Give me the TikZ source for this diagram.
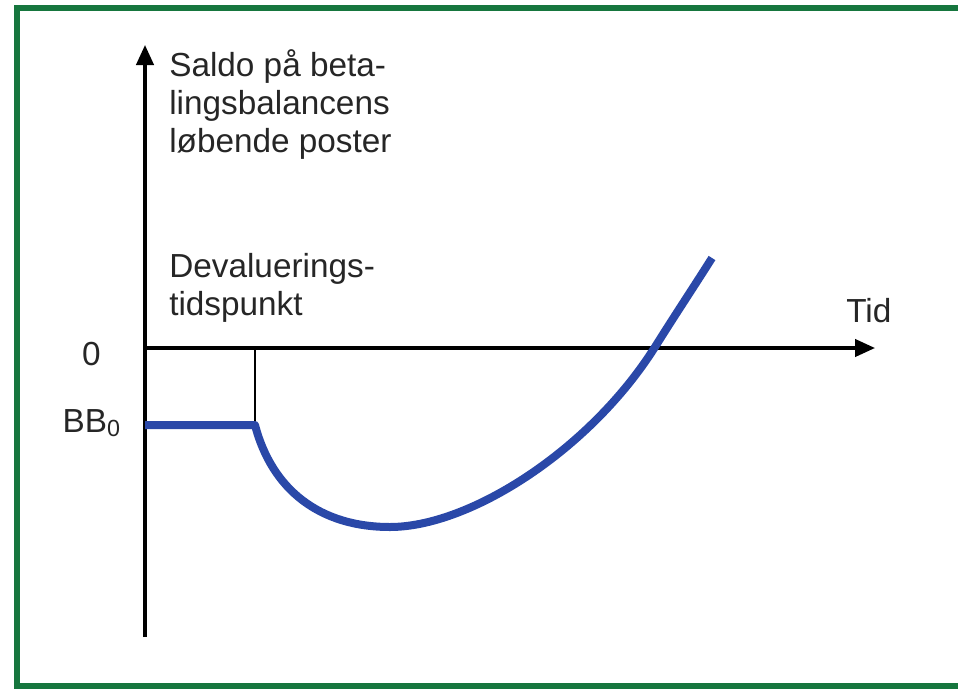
\documentclass[tikz,border=0pt]{standalone}
\usepackage{fontspec}
\setmainfont{Liberation Sans}
\usetikzlibrary{arrows.meta, positioning}
\definecolor{framegreen}{RGB}{22,118,62}
\definecolor{curveblue}{RGB}{42,72,168}
\tikzset{axis/.style = {line width=2.4pt, -{Triangle[length=15pt, width=13pt]}},
  guide/.style = {line width=0.8pt},
  bbcurve/.style = {line width=6pt, curveblue, line join=round},
  lbl/.style = {inner sep=0pt, align=left, text=black!85,
    font=\fontsize{25}{28.2}\selectfont}}

\begin{document}
\begin{tikzpicture}[x=0.75pt, y=-0.75pt]
  \useasboundingbox (0,0) rectangle (958,690);
  % frame, open at the right edge
  \draw [framegreen, line width=4.5pt] (958,8) -- (17,8) -- (17,686) -- (958,686);

  \coordinate (O) at (145,348);
  \coordinate (ybot) at (145,637);
  \coordinate (ytop) at (145,45);
  \coordinate (xend) at (875,348);
  \coordinate (dev) at (255,348);
  \coordinate (bb) at (145,425);
  \coordinate (devbb) at (255,425);
  \coordinate (low) at (390,527);
  \coordinate (cross) at (655,347);
  \coordinate (cend) at (712,258);

  \draw [axis] (ybot) -- (ytop);
  \draw [axis] (O) -- (xend);
  \draw [guide] (dev) -- (devbb);

  \node (ylabel) [lbl, anchor=base west] at (169,152) {Saldo på beta-\\lingsbalancens\\løbende poster};
  \node (devlabel) [lbl, anchor=base west] at (169,315) {Devaluerings-\\tidspunkt};
  \node (xlabel) [lbl, anchor=base west] at (846,322) {Tid};
  \node (zero) [lbl, anchor=base east] at (101,365) {0};
  \node (bblabel) [lbl, anchor=base east] at (121,432) {BB\textsubscript{0}};

  % balance over time
  \draw [bbcurve] (bb) -- (devbb)
    .. controls (272,490) and (320,527) .. (low)
    .. controls (470,527) and (590,450) .. (cross)
    .. controls (675,315) and (695,285) .. (cend);
\end{tikzpicture}
\end{document}
